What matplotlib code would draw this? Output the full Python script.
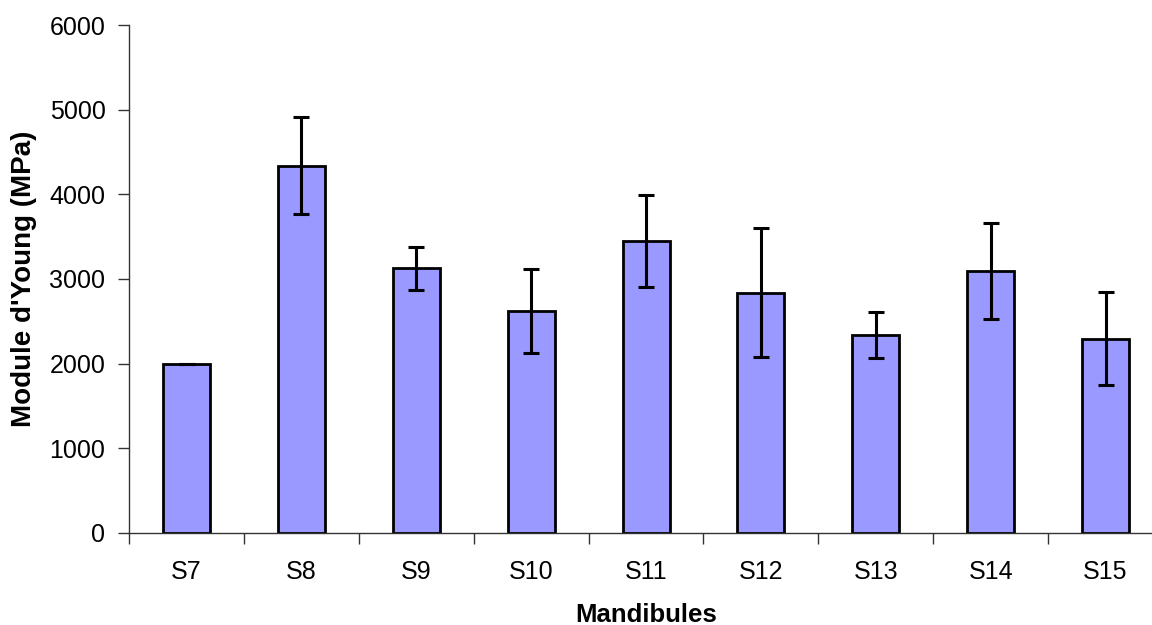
import matplotlib
matplotlib.use("Agg")
import matplotlib.pyplot as plt
import numpy as np

categories = ["S7", "S8", "S9", "S10", "S11", "S12", "S13", "S14", "S15"]
values = [2000, 4340, 3125, 2622, 3450, 2840, 2340, 3094, 2295]
errors = [0, 575, 250, 500, 548, 762, 272, 572, 550]
yticks = [0, 1000, 2000, 3000, 4000, 5000, 6000]

plt.rcParams['font.family'] = ['Liberation Sans', 'DejaVu Sans']

fig = plt.figure(figsize=(11.52, 6.25), dpi=100)
ax = fig.add_axes([129.1 / 1152, 92.3 / 625, (1163 - 129.1) / 1152, (532.7 - 25.3) / 625])

x = np.arange(len(categories))
ax.bar(x, values, width=0.41, color="#9999FF", edgecolor="black", linewidth=2, zorder=2)
ax.errorbar(x, values, yerr=errors, fmt="none", ecolor="black", elinewidth=2.2,
            capsize=5.5, capthick=2.2, zorder=3)

ax.set_xlim(-0.5, len(categories) - 0.5)
ax.set_ylim(0, 6000)
ax.set_yticks(yticks)
ax.set_yticklabels([str(v) for v in yticks], fontsize=18)

ax.set_xticks(np.arange(len(categories) + 1) - 0.5)
ax.set_xticklabels([])
ax.set_xticks(x, minor=True)
ax.set_xticklabels(categories, minor=True, fontsize=18)
ax.tick_params(axis="x", which="major", length=8, width=1, color="#333333", direction="out")
ax.tick_params(axis="x", which="minor", length=0, pad=20)
ax.tick_params(axis="y", length=8, width=1, color="#333333", direction="out", pad=9)

for s in ["top", "right"]:
    ax.spines[s].set_visible(False)
for s in ["left", "bottom"]:
    ax.spines[s].set_color("#333333")
    ax.spines[s].set_linewidth(1)

ax.set_xlabel("Mandibules", fontsize=18.5, fontweight="bold", labelpad=13)
ax.set_ylabel("Module d'Young (MPa)", fontsize=20, fontweight="bold", labelpad=9)

fig.savefig("out.png", dpi=100)
